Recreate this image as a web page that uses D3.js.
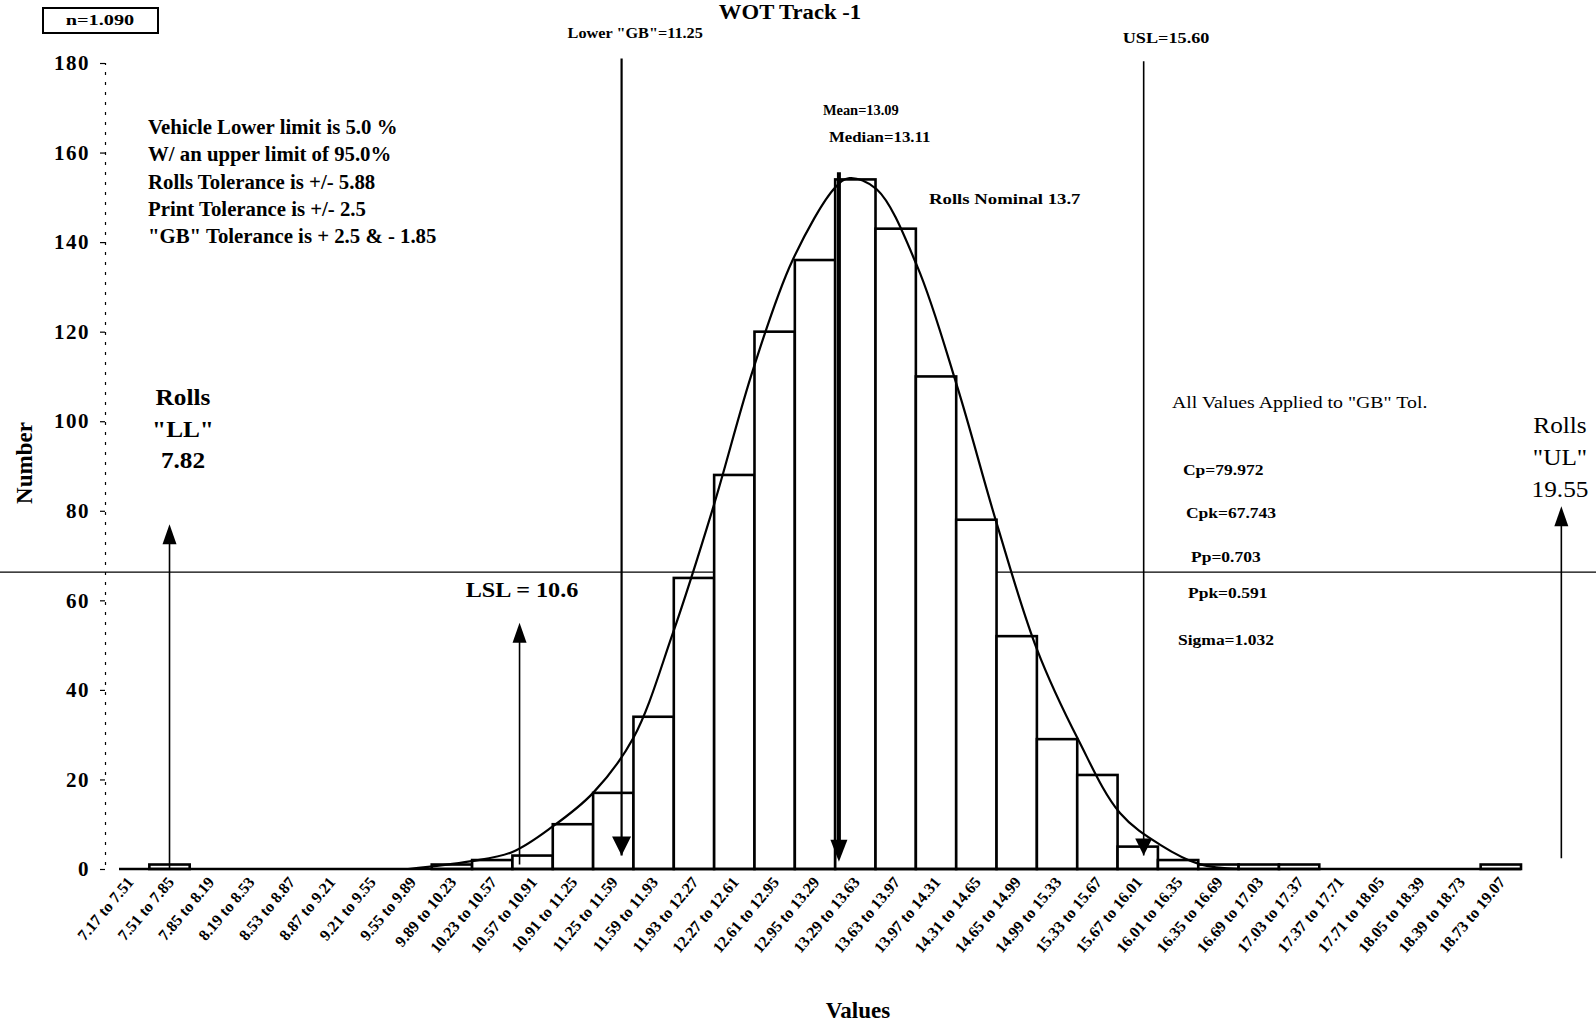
<!DOCTYPE html>
<html>
<head>
<meta charset="utf-8">
<script src="https://cdn.jsdelivr.net/npm/d3@7"></script>
<style>
  body { margin: 0; background: #fff; }
  svg { display: block; font-family: "Liberation Serif", "Times New Roman", serif; }
  text { fill: #000; }
</style>
</head>
<body>
<svg id="chart" width="1596" height="1024"></svg>
<script>
const binLabels = [
  '7.17 to 7.51', '7.51 to 7.85', '7.85 to 8.19', '8.19 to 8.53', '8.53 to 8.87',
  '8.87 to 9.21', '9.21 to 9.55', '9.55 to 9.89', '9.89 to 10.23', '10.23 to 10.57',
  '10.57 to 10.91', '10.91 to 11.25', '11.25 to 11.59', '11.59 to 11.93', '11.93 to 12.27',
  '12.27 to 12.61', '12.61 to 12.95', '12.95 to 13.29', '13.29 to 13.63', '13.63 to 13.97',
  '13.97 to 14.31', '14.31 to 14.65', '14.65 to 14.99', '14.99 to 15.33', '15.33 to 15.67',
  '15.67 to 16.01', '16.01 to 16.35', '16.35 to 16.69', '16.69 to 17.03', '17.03 to 17.37',
  '17.37 to 17.71', '17.71 to 18.05', '18.05 to 18.39', '18.39 to 18.73', '18.73 to 19.07'
];
const binCounts = [
  0, 1, 0, 0, 0, 0, 0, 0, 1, 2,
  3, 10, 17, 34, 65, 88, 120, 136, 154, 143,
  110, 78, 52, 29, 21, 5, 2, 1, 1, 1,
  0, 0, 0, 0, 1
];
const binStart = 7.17, binEnd = 19.07;

// fitted curve (value, count)
const curveValues = [9.45, 9.97, 10.33, 10.67, 11.01, 11.35, 11.68, 12.02, 12.36, 12.69, 13.05,
                     13.17, 13.40, 13.74, 14.08, 14.41, 14.75, 15.10, 15.45, 15.79, 16.12, 16.46];
const curveCounts = [0, 1.7, 3.8, 9.5, 17, 29.3, 52.5, 80.6, 111.7, 135.9, 152.2,
                     154.3, 151.8, 134.7, 107.6, 77.3, 49.1, 28.8, 12.5, 5.4, 1.1, 0];

const yTicks = [0, 20, 40, 60, 80, 100, 120, 140, 160, 180];

const notes = [
  'Vehicle Lower limit is 5.0 %',
  'W/ an upper limit of 95.0%',
  'Rolls Tolerance is +/- 5.88',
  'Print Tolerance is +/- 2.5',
  '"GB" Tolerance is + 2.5 & - 1.85'
];
const capability = ['Cp=79.972', 'Cpk=67.743', 'Pp=0.703', 'Ppk=0.591', 'Sigma=1.032'];

const meanValue = 13.09, medianValue = 13.11;
const lowerGB = 11.25, usl = 15.60, lsl = 10.6, rollsNominal = 13.7;
const rollsLL = 7.82, rollsUL = 19.55;
const sampleSize = '1.090';
const stray = 66.3; // the stray horizontal rule across the scan

// ---- layout
const svg = d3.select('#chart');
const W = 1596;
const plotLeft = 109, plotRight = 1521, plotTop = 63, plotBottom = 869;

const xBand = d3.scaleBand().domain(binLabels).range([plotLeft, plotRight]).padding(0);
const xEdge = d3.scaleLinear().domain([binStart, binEnd]).range([plotLeft, plotRight]);
// the fit, mean and spec lines sit a little right of the bin edges in the original
const fitOffset = 0.24;
const xFit = v => xEdge(v + fitOffset);
const y = d3.scaleLinear().domain([0, 180]).range([plotBottom, plotTop]);

// stray horizontal rule
svg.append('line')
  .attr('x1', 0).attr('x2', W)
  .attr('y1', y(stray)).attr('y2', y(stray))
  .attr('stroke', '#000').attr('stroke-width', 1.3);

// y axis
const yAxis = svg.append('g')
  .attr('transform', 'translate(105,0)')
  .call(d3.axisLeft(y).tickValues(yTicks).tickSize(5).tickPadding(10));
yAxis.select('.domain').attr('stroke-dasharray', '3,7').attr('stroke-width', 1.2);
yAxis.selectAll('.tick line').attr('stroke-width', 1.2);
yAxis.selectAll('.tick text')
  .attr('font-family', 'Liberation Serif').attr('font-size', 21).attr('font-weight', 'bold')
  .attr('letter-spacing', 1.5);

// bars
svg.append('g').selectAll('rect')
  .data(binCounts)
  .join('rect')
  .attr('x', (d, i) => xBand(binLabels[i]))
  .attr('y', d => y(d))
  .attr('width', xBand.bandwidth())
  .attr('height', d => y(0) - y(d))
  .attr('fill', '#fff')
  .attr('stroke', '#000')
  .attr('stroke-width', 2.6);

// baseline
svg.append('line')
  .attr('x1', plotLeft + 10).attr('x2', plotRight)
  .attr('y1', y(0)).attr('y2', y(0))
  .attr('stroke', '#000').attr('stroke-width', 2.5);

// x tick labels
const xAxis = svg.append('g')
  .attr('transform', `translate(0,${y(0)})`)
  .call(d3.axisBottom(xBand).tickSize(0));
xAxis.select('.domain').remove();
xAxis.selectAll('.tick text')
  .attr('font-family', 'Liberation Serif').attr('font-size', 16).attr('font-weight', 'bold')
  .attr('y', 0).attr('dy', '0.35em')
  .attr('text-anchor', 'end')
  .attr('transform', 'translate(1,10) rotate(-50)');

// fitted curve
const curvePts = curveValues.map((v, i) => [xFit(v), y(curveCounts[i])]);
svg.append('path')
  .attr('d', d3.line().curve(d3.curveCatmullRom)(curvePts))
  .attr('fill', 'none')
  .attr('stroke', '#000')
  .attr('stroke-width', 2.2);

function arrowHead(x, yTip, dir, w, h) {
  // dir 1 = pointing down, -1 = pointing up
  const base = yTip - dir * h;
  svg.append('path')
    .attr('d', `M${x - w / 2},${base}L${x + w / 2},${base}L${x},${yTip}Z`)
    .attr('fill', '#000');
}

// spec lines with down arrows
const specLines = [
  { value: lowerGB, nudge: 0, top: 181, width: 2.2, head: 19 },
  { value: usl, nudge: 0.05, top: 180.4, width: 1.6, head: 17 }
];
specLines.forEach(s => {
  const x = xFit(s.value + s.nudge);
  svg.append('line')
    .attr('x1', x).attr('x2', x)
    .attr('y1', y(s.top)).attr('y2', y(3))
    .attr('stroke', '#000').attr('stroke-width', s.width);
  arrowHead(x, y(3), 1, s.head, s.head);
});

// mean arrow
{
  const x = xFit(meanValue) - 1;
  svg.append('line')
    .attr('x1', x).attr('x2', x)
    .attr('y1', y(155.6)).attr('y2', y(4))
    .attr('stroke', '#000').attr('stroke-width', 4);
  arrowHead(x, y(1.6), 1, 17, 22);
}

// up arrows for rolls limits and LSL (hand placed in the original)
const upArrows = [
  { value: rollsLL, nudge: -0.14, from: 0, to: 77 },
  { value: lsl, nudge: 0.03, from: 1, to: 55 },
  { value: rollsUL, nudge: -0.14, from: 2.4, to: 81 }
];
upArrows.forEach(a => {
  const x = xEdge(a.value + a.nudge);
  svg.append('line')
    .attr('x1', x).attr('x2', x)
    .attr('y1', y(a.from)).attr('y2', y(a.to) + 10)
    .attr('stroke', '#000').attr('stroke-width', 1.6);
  arrowHead(x, y(a.to), -1, 14, 20);
});

// ---- texts (the scan widens most lettering, hence the stretch factor)
function label(x, yy, txt, size, weight, anchor, stretch) {
  return svg.append('text')
    .attr('transform', `translate(${x},${yy}) scale(${stretch || 1},1)`)
    .attr('font-size', size)
    .attr('font-weight', weight || 'normal')
    .attr('text-anchor', anchor || 'start')
    .text(txt);
}

label(790, 19, 'WOT Track -1', 21, 'bold', 'middle', 1.08);

svg.append('rect')
  .attr('x', 43).attr('y', 8).attr('width', 115).attr('height', 25)
  .attr('fill', '#fff').attr('stroke', '#000').attr('stroke-width', 2);
label(100, 25, 'n=' + sampleSize, 14, 'bold', 'middle', 1.45);

label(xFit(lowerGB) - 54, 38, `Lower "GB"=${lowerGB.toFixed(2)}`, 14, 'bold', 'start', 1.16);
label(xFit(usl) - 15, 43, `USL=${usl.toFixed(2)}`, 14, 'bold', 'start', 1.3);

label(xFit(meanValue) - 17, 115, `Mean=${meanValue.toFixed(2)}`, 14, 'bold', 'start', 1.03);
label(xFit(meanValue) - 11, 142, `Median=${medianValue.toFixed(2)}`, 14, 'bold', 'start', 1.2);
label(929, 204, `Rolls Nominal ${rollsNominal}`, 15, 'bold', 'start', 1.25);

notes.forEach((t, i) => label(148, 134 + i * 27.3, t, 20, 'bold', 'start', 1.04));

['Rolls', '"LL"', rollsLL.toFixed(2)].forEach((t, i) =>
  label(183, 405 + i * 31.5, t, 23, 'bold', 'middle', 1.1));
['Rolls', '"UL"', rollsUL.toFixed(2)].forEach((t, i) =>
  label(1560, 433 + i * 32, t, 23, 'normal', 'middle', 1.1));

label(522, 597, `LSL = ${lsl}`, 22, 'bold', 'middle', 1.1);

label(1172, 408, 'All Values Applied to "GB" Tol.', 16, 'normal', 'start', 1.24);
const capPos = [[1183, 475], [1186, 518], [1191, 562], [1188, 598], [1178, 645]];
capability.forEach((t, i) => label(capPos[i][0], capPos[i][1], t, 14, 'bold', 'start', 1.25));

// axis titles
svg.append('text')
  .attr('transform', 'translate(32,463) rotate(-90)')
  .attr('font-size', 23).attr('font-weight', 'bold')
  .attr('text-anchor', 'middle')
  .text('Number');
label(858, 1018, 'Values', 23, 'bold', 'middle');
</script>
</body>
</html>
